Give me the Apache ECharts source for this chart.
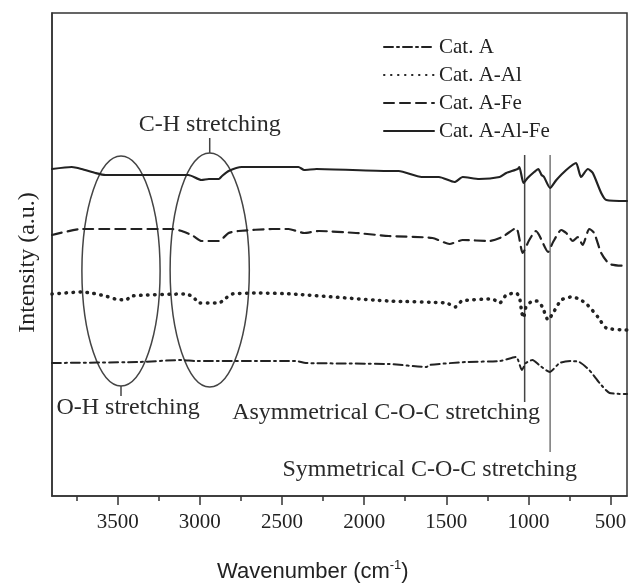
<!DOCTYPE html>
<html>
<head>
<meta charset="utf-8">
<script src="https://cdn.jsdelivr.net/npm/echarts@6/dist/echarts.min.js"></script>
<style>
    html, body { margin: 0; padding: 0; background: #fff; }
    #chart { width: 631px; height: 585px; }
</style>
</head>
<body>
<div id="chart"></div>
<script>
// FTIR spectra, [wavenumber, intensity (a.u.)]
const catA = [
    [3900, 133], [3375, 134], [3110, 136], [3025, 135], [2950, 135], [2415, 135],
    [2355, 133], [1850, 132], [1620, 129], [1605, 131], [1380, 134], [1175, 135],
    [1075, 139], [1040, 126], [1015, 133], [975, 136], [935, 131], [870, 124],
    [810, 133], [740, 135], [690, 134], [630, 126], [567, 113], [506, 103], [400, 102]
];
const catAAl = [
    [3900, 202], [3720, 204], [3660, 203], [3575, 200], [3515, 197], [3450, 196],
    [3415, 200], [3085, 202], [3040, 199], [3005, 193], [2885, 193], [2840, 198],
    [2805, 202], [2640, 203], [2440, 202], [1850, 195], [1500, 193], [1445, 189],
    [1405, 195], [1220, 197], [1175, 193], [1135, 201], [1075, 203], [1055, 199],
    [1040, 183], [1030, 178], [1015, 189], [985, 194], [945, 195], [915, 189],
    [880, 176], [850, 183], [800, 196], [740, 199], [690, 197], [640, 191],
    [577, 179], [526, 168], [400, 166]
];
const catAFe = [
    [3900, 261], [3720, 267], [3170, 267], [3110, 265], [3040, 260], [2990, 255],
    [2885, 255], [2825, 263], [2765, 265], [2560, 267], [2460, 267], [2365, 263],
    [2275, 265], [2050, 263], [1850, 260], [1585, 258], [1480, 252], [1400, 256],
    [1240, 255], [1160, 259], [1075, 268], [1035, 243], [995, 256], [955, 265],
    [935, 261], [880, 244], [850, 254], [800, 266], [770, 263], [730, 255],
    [700, 259], [670, 251], [630, 267], [600, 263], [557, 243], [506, 232], [400, 230]
];
const catAAlFe = [
    [3900, 327], [3780, 329], [3720, 327], [3635, 323], [3575, 321], [3300, 321],
    [3070, 321], [2990, 316], [2945, 317], [2885, 317], [2865, 320], [2825, 325],
    [2745, 329], [2400, 329], [2365, 326], [2290, 327], [1850, 325], [1790, 325],
    [1650, 319], [1545, 319], [1450, 314], [1400, 319], [1300, 317], [1175, 319],
    [1135, 323], [1065, 327], [1055, 329], [1030, 313], [1005, 318], [965, 324],
    [940, 327], [920, 321], [905, 319], [868, 308], [830, 316], [770, 326],
    [710, 333], [680, 319], [638, 327], [608, 323], [557, 303], [526, 296], [400, 295]
];

const seriesNames = ["Cat. A", "Cat. A-Al", "Cat. A-Fe", "Cat. A-Al-Fe"];
const majorTicks = [3500, 3000, 2500, 2000, 1500, 1000, 500];
const minorTicks = [3750, 3250, 2750, 2250, 1750, 1250, 750];

// band regions: [centre wavenumber, centre intensity, half width, half height]
const bandEllipses = [
    [3480, 225, 238, 115],
    [2940, 226, 241, 117]
];
// pointer lines: [wavenumber, from, to]
const pointerLines = [
    [3480, 110, 100],
    [2940, 343, 358],
    [1023, 341, 94],
    [868, 341, 44]
];
// labels: [text, wavenumber, intensity]
const bandLabels = [
    ["C-H stretching", 2940, 371],
    ["O-H stretching", 3437, 88],
    ["Asymmetrical C-O-C stretching", 1866, 83],
    ["Symmetrical C-O-C stretching", 1601, 26]
];

const serif = "'Liberation Serif', 'Times New Roman', serif";
const sans = "'Liberation Sans', Arial, sans-serif";
const ink = "#222";

function lineSeries(name, data, width, type) {
    return {
        name: name,
        type: "line",
        data: data,
        symbol: "none",
        smooth: 0.2,
        lineStyle: { color: ink, width: width, type: type, cap: "round" },
        // transparent so the legend shows only the line sample
        itemStyle: { color: "rgba(0,0,0,0)" },
        z: 3
    };
}

const chart = echarts.init(document.getElementById("chart"));

chart.setOption({
    backgroundColor: "#fff",
    animation: false,
    grid: {
        left: 52, right: 4, top: 13, bottom: 89,
        show: true, borderColor: "#333", borderWidth: 1.5
    },
    title: {
        text: "{n|Wavenumber (cm}{s|-1}{n|)}",
        left: 212, top: 554,
        textStyle: {
            fontWeight: "normal",
            rich: {
                n: { fontFamily: sans, fontSize: 22, color: ink, fontWeight: "normal" },
                s: { fontFamily: sans, fontSize: 13, color: ink, fontWeight: "normal", padding: [0, 0, 12, 0] }
            }
        }
    },
    legend: {
        orient: "vertical",
        left: 378, top: 30,
        itemWidth: 50, itemHeight: 14, itemGap: 4, itemTextGap: 10,
        data: seriesNames,
        textStyle: { fontFamily: serif, fontSize: 21, color: ink, lineHeight: 24 }
    },
    xAxis: [{
        type: "value",
        inverse: true,
        min: 400, max: 3900,
        position: "bottom",
        axisLine: { lineStyle: { color: "#333", width: 1.5 } },
        axisTick: { customValues: majorTicks, length: 9, lineStyle: { color: "#333", width: 1.5 } },
        axisLabel: {
            customValues: majorTicks,
            formatter: v => String(v),
            fontFamily: serif, fontSize: 21, color: ink, margin: 16
        },
        splitLine: { show: false }
    }, {
        type: "value",
        inverse: true,
        min: 400, max: 3900,
        position: "bottom",
        axisLine: { show: false },
        axisTick: { customValues: minorTicks, length: 5, lineStyle: { color: "#333", width: 1.5 } },
        axisLabel: { show: false },
        splitLine: { show: false }
    }],
    yAxis: {
        type: "value",
        min: 0, max: 483,
        name: "Intensity (a.u.)",
        nameLocation: "middle",
        nameGap: 12,
        nameTextStyle: { fontFamily: serif, fontSize: 24, color: ink, padding: [0, 16, 0, 0] },
        axisLine: { show: true, lineStyle: { color: "#333", width: 1.5 } },
        axisTick: { show: false },
        axisLabel: { show: false },
        splitLine: { show: false }
    },
    series: [
        lineSeries(seriesNames[0], catA, 2, [9, 4, 2, 4]),
        lineSeries(seriesNames[1], catAAl, 3.5, [0.5, 6.5]),
        lineSeries(seriesNames[2], catAFe, 2.2, [10, 6]),
        lineSeries(seriesNames[3], catAAlFe, 2.2, "solid"),
        {
            type: "custom",
            data: bandEllipses,
            encode: { x: 0, y: 1 },
            clip: false,
            silent: true,
            renderItem: (params, api) => {
                const c = api.coord([api.value(0), api.value(1)]);
                const s = api.size([api.value(2), api.value(3)]);
                return {
                    type: "ellipse",
                    shape: { cx: c[0], cy: c[1], rx: Math.abs(s[0]), ry: Math.abs(s[1]) },
                    style: { fill: null, stroke: "#444", lineWidth: 1.5 }
                };
            }
        },
        {
            type: "custom",
            data: pointerLines,
            encode: { x: 0, y: [1, 2] },
            clip: false,
            silent: true,
            renderItem: (params, api) => {
                const a = api.coord([api.value(0), api.value(1)]);
                const b = api.coord([api.value(0), api.value(2)]);
                return {
                    type: "line",
                    shape: { x1: a[0], y1: a[1], x2: b[0], y2: b[1] },
                    style: { stroke: params.dataIndex === 3 ? "#777" : "#444", lineWidth: 1.5 }
                };
            }
        },
        {
            type: "custom",
            data: bandLabels.map(d => [d[1], d[2], d[0]]),
            dimensions: ["x", "y", "label"],
            encode: { x: 0, y: 1 },
            clip: false,
            silent: true,
            renderItem: (params, api) => {
                const p = api.coord([api.value(0), api.value(1)]);
                return {
                    type: "text",
                    x: p[0], y: p[1],
                    style: {
                        text: api.value(2),
                        fontFamily: serif, fontSize: 24, fill: "#2a2a2a",
                        align: "center", verticalAlign: "middle"
                    }
                };
            }
        }
    ]
});
</script>
</body>
</html>
